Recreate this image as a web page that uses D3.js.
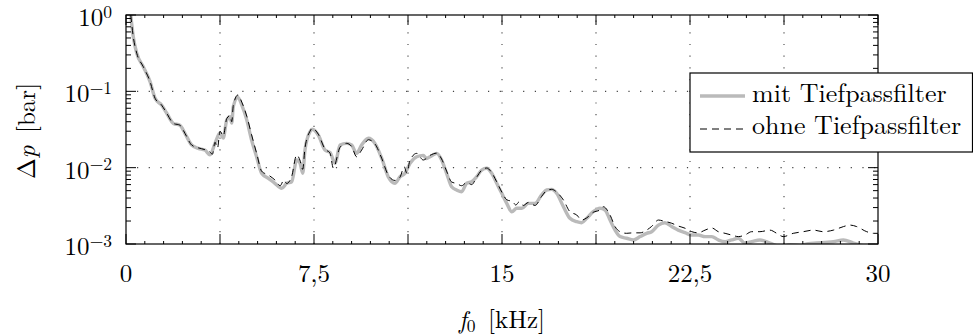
<!DOCTYPE html>
<html>
<head>
<meta charset="utf-8">
<script src="https://cdn.jsdelivr.net/npm/d3@7/dist/d3.min.js"></script>
<style>
  html, body { margin: 0; padding: 0; background: #fff; }
</style>
</head>
<body>
<svg id="chart" width="973" height="336"></svg>
<script>
// Pressure amplitude spectrum, with and without low-pass filter
const fMit = [0.19,0.29,0.43,0.69,0.96,1.16,1.42,1.62,1.89,2.15,2.35,2.62,2.88,3.15,3.35,3.55,3.75,3.88,4.02,4.15,4.22,4.28,4.46,4.62,4.82,5.01,5.21,5.41,5.68,5.94,6.21,6.41,6.61,6.81,6.94,7.05,7.14,7.34,7.43,7.67,7.94,8.14,8.34,8.54,8.80,9.00,9.20,9.40,9.67,9.93,10.20,10.46,10.73,10.93,11.13,11.33,11.60,11.86,11.99,12.13,12.40,12.59,12.79,12.99,13.19,13.39,13.59,13.79,13.99,14.19,14.39,14.59,14.79,14.99,15.19,15.39,15.59,15.79,16.05,16.32,16.58,16.78,16.98,17.18,17.45,17.71,17.98,18.18,18.38,18.64,18.91,19.11,19.31,19.51,19.71,19.97,20.24,20.51,20.77,20.97,21.24,21.50,21.77,22.03,22.30,22.57,22.83,23.10,23.37,23.63,23.90,24.16,24.43,24.69,24.96,25.29,25.69,26.09,26.49,26.89,27.22,27.55,27.89,28.22,28.62,29.02,29.41,29.88];
const pMit = [1.0,0.52,0.315,0.21,0.134,0.081,0.066,0.052,0.038,0.036,0.0282,0.0198,0.0179,0.0170,0.0147,0.0208,0.0285,0.0245,0.042,0.0465,0.0385,0.063,0.0835,0.066,0.042,0.0230,0.0139,0.00844,0.00726,0.00624,0.00537,0.00624,0.00655,0.0126,0.0115,0.00844,0.0170,0.0296,0.0318,0.0268,0.0170,0.0158,0.0114,0.0198,0.0208,0.0198,0.0154,0.0198,0.0243,0.0208,0.0133,0.00762,0.00624,0.00762,0.00844,0.0114,0.0139,0.0145,0.0132,0.0139,0.0154,0.0126,0.00844,0.00563,0.00510,0.00484,0.00624,0.00655,0.00762,0.00931,0.00982,0.00844,0.00624,0.00461,0.00341,0.00265,0.00294,0.00294,0.00341,0.00341,0.00439,0.00510,0.00520,0.00461,0.00308,0.00217,0.00196,0.00190,0.00217,0.00265,0.00294,0.00279,0.00206,0.00152,0.00125,0.00119,0.00113,0.00125,0.00138,0.00145,0.00177,0.00190,0.00169,0.00152,0.00141,0.00131,0.00131,0.00125,0.00125,0.00113,0.00107,0.00113,0.00119,0.00103,0.00107,0.00113,0.00103,0.00093,0.00098,0.00096,0.00101,0.00103,0.00105,0.00107,0.00113,0.00103,0.00096,0.00096];

const fOhne = [0.19,0.29,0.43,0.69,0.96,1.16,1.42,1.62,1.89,2.15,2.35,2.62,2.88,3.15,3.35,3.45,3.55,3.65,3.75,3.88,4.02,4.15,4.22,4.28,4.46,4.62,4.82,5.01,5.21,5.41,5.68,5.94,6.15,6.30,6.41,6.61,6.81,6.94,7.05,7.14,7.34,7.43,7.67,7.94,8.14,8.27,8.54,8.80,9.00,9.20,9.40,9.67,9.93,10.20,10.46,10.73,10.93,11.10,11.20,11.33,11.60,11.86,12.13,12.40,12.59,12.79,12.99,13.19,13.39,13.59,13.79,13.99,14.19,14.39,14.59,14.79,14.99,15.19,15.43,15.55,15.69,15.85,16.05,16.32,16.58,16.78,16.98,17.18,17.45,17.71,17.98,18.18,18.38,18.64,18.91,19.04,19.31,19.51,19.71,19.97,20.24,20.51,20.77,20.97,21.24,21.44,21.77,22.03,22.30,22.57,22.83,23.10,23.37,23.63,23.90,24.16,24.43,24.69,24.96,25.29,25.69,25.96,26.22,26.62,27.02,27.42,27.82,28.22,28.62,28.88,29.15,29.55,29.82,30.0];
const pOhne = [1.0,0.52,0.315,0.21,0.134,0.081,0.066,0.052,0.038,0.036,0.0282,0.0198,0.0182,0.0172,0.0160,0.0150,0.0215,0.0180,0.030,0.026,0.044,0.048,0.040,0.065,0.0895,0.072,0.047,0.027,0.0155,0.0090,0.0080,0.0069,0.0058,0.0069,0.0062,0.0077,0.0147,0.0125,0.0095,0.018,0.030,0.0328,0.0275,0.0175,0.0155,0.0099,0.0185,0.0208,0.0190,0.0139,0.0170,0.0232,0.0205,0.0133,0.0080,0.0068,0.0075,0.0103,0.0085,0.0125,0.0154,0.0126,0.0145,0.0155,0.0130,0.0090,0.0065,0.0062,0.0058,0.0064,0.0060,0.0075,0.0093,0.0099,0.0086,0.0065,0.0048,0.0038,0.00358,0.00324,0.00358,0.0032,0.0035,0.0032,0.0042,0.0050,0.0052,0.0048,0.00377,0.00265,0.0024,0.00206,0.0022,0.0026,0.0028,0.00308,0.0024,0.00169,0.00145,0.00138,0.0014,0.0014,0.00152,0.0017,0.00206,0.0020,0.00187,0.00172,0.00161,0.00145,0.0014,0.00152,0.00162,0.00145,0.00138,0.00131,0.00125,0.00131,0.00145,0.00145,0.00152,0.00138,0.00125,0.00138,0.00145,0.00152,0.00145,0.00152,0.00169,0.00177,0.00169,0.00145,0.00138,0.00138];

const xTickValues = [0, 7.5, 15, 22.5, 30];
const xTickLabels = ["0", "7,5", "15", "22,5", "30"];
const yTickExponents = [0, -1, -2, -3];
const seriesNames = ["mit Tiefpassfilter", "ohne Tiefpassfilter"];

const FONT = "'Latin Modern Roman', 'Liberation Serif', serif";

const svg = d3.select("#chart");
const plotLeft = 126, plotRight = 878, plotTop = 15, plotBottom = 244;

const x = d3.scaleLinear().domain([0, 30]).range([plotLeft, plotRight]);
const y = d3.scaleLog().domain([1e-3, 1]).range([plotBottom, plotTop]);

// dotted grid
const gridX = d3.range(0, 30.01, 3.75).filter(v => v > 0 && v < 30);
svg.append("g").selectAll("line").data(gridX).join("line")
  .attr("x1", d => x(d)).attr("x2", d => x(d))
  .attr("y1", plotBottom).attr("y2", plotTop)
  .attr("stroke", "#444").attr("stroke-width", 1.1)
  .attr("stroke-dasharray", "1.2,10.5");
svg.append("g").selectAll("line").data([1e-1, 1e-2]).join("line")
  .attr("x1", plotLeft).attr("x2", plotRight)
  .attr("y1", d => y(d)).attr("y2", d => y(d))
  .attr("stroke", "#444").attr("stroke-width", 1.1)
  .attr("stroke-dasharray", "1.2,10.5")
  .attr("stroke-dashoffset", -11);

// clip curves to the plot area
svg.append("clipPath").attr("id", "plotClip")
  .append("rect").attr("x", plotLeft).attr("y", plotTop)
  .attr("width", plotRight - plotLeft).attr("height", plotBottom - plotTop);

const line = d3.line()
  .x(d => x(d[0])).y(d => y(d[1]))
  .curve(d3.curveMonotoneX);

const plot = svg.append("g").attr("clip-path", "url(#plotClip)");
plot.append("path")
  .attr("d", line(d3.zip(fMit, pMit)))
  .attr("fill", "none").attr("stroke", "#bababa")
  .attr("stroke-width", 3.4).attr("stroke-linejoin", "round");
plot.append("path")
  .attr("d", line(d3.zip(fOhne, pOhne)))
  .attr("fill", "none").attr("stroke", "#000")
  .attr("stroke-width", 1).attr("stroke-dasharray", "7,5");

// ticks (inward, on all four sides)
const ticks = svg.append("g").attr("stroke", "#000").attr("stroke-width", 1);
const xMajor = d3.range(0, 30.01, 3.75);
const xMinor = d3.range(0, 30.01, 0.75).filter(v => Math.abs(v / 3.75 - Math.round(v / 3.75)) > 1e-6);
xMajor.forEach(v => {
  ticks.append("line").attr("x1", x(v)).attr("x2", x(v)).attr("y1", plotBottom).attr("y2", plotBottom - 10);
  ticks.append("line").attr("x1", x(v)).attr("x2", x(v)).attr("y1", plotTop).attr("y2", plotTop + 10);
});
xMinor.forEach(v => {
  ticks.append("line").attr("x1", x(v)).attr("x2", x(v)).attr("y1", plotBottom).attr("y2", plotBottom - 3);
  ticks.append("line").attr("x1", x(v)).attr("x2", x(v)).attr("y1", plotTop).attr("y2", plotTop + 3);
});
const yMinor = [];
[-3, -2, -1].forEach(e => { for (let m = 2; m <= 9; m++) yMinor.push(m * Math.pow(10, e)); });
yTickExponents.forEach(e => {
  const yy = y(Math.pow(10, e));
  ticks.append("line").attr("x1", plotLeft).attr("x2", plotLeft + 10).attr("y1", yy).attr("y2", yy);
  ticks.append("line").attr("x1", plotRight).attr("x2", plotRight - 10).attr("y1", yy).attr("y2", yy);
});
yMinor.forEach(v => {
  const yy = y(v);
  ticks.append("line").attr("x1", plotLeft).attr("x2", plotLeft + 5).attr("y1", yy).attr("y2", yy);
  ticks.append("line").attr("x1", plotRight).attr("x2", plotRight - 5).attr("y1", yy).attr("y2", yy);
});

// frame
svg.append("rect").attr("x", plotLeft).attr("y", plotTop)
  .attr("width", plotRight - plotLeft).attr("height", plotBottom - plotTop)
  .attr("fill", "none").attr("stroke", "#000").attr("stroke-width", 1.2);

// x tick labels
svg.append("g").selectAll("text").data(xTickValues).join("text")
  .attr("font-family", FONT)
  .attr("x", d => x(d)).attr("y", 282)
  .attr("text-anchor", "middle").attr("font-size", 25)
  .text((d, i) => xTickLabels[i]);

// y tick labels 10^e
yTickExponents.forEach(e => {
  const t = svg.append("text").attr("font-family", FONT)
    .attr("x", 112).attr("y", y(Math.pow(10, e)) + 11)
    .attr("text-anchor", "end").attr("font-size", 25);
  t.append("tspan").text("10");
  t.append("tspan").attr("font-size", 17.5).attr("dy", -8.5)
    .text(e === 0 ? "0" : "\u2212" + Math.abs(e));
});

// axis labels
const xl = svg.append("text").attr("font-family", FONT)
  .attr("x", 502).attr("y", 328)
  .attr("text-anchor", "middle").attr("font-size", 25);
xl.append("tspan").attr("font-style", "italic").text("f");
xl.append("tspan").attr("font-size", 17.5).attr("dy", 4).text("0");
xl.append("tspan").attr("dy", -4).text("\u2002[kHz]");

const yl = svg.append("text").attr("font-family", FONT)
  .attr("transform", "translate(35,131) rotate(-90)")
  .attr("text-anchor", "middle").attr("font-size", 25);
yl.append("tspan").text("\u0394");
yl.append("tspan").attr("font-style", "italic").text("p");
yl.append("tspan").text("\u2002[bar]");

// legend
const lg = svg.append("g");
lg.append("rect").attr("x", 690).attr("y", 73)
  .attr("width", 282.5).attr("height", 79)
  .attr("fill", "#fff").attr("stroke", "#000").attr("stroke-width", 1.2);
lg.append("line").attr("x1", 700).attr("x2", 745).attr("y1", 96).attr("y2", 96)
  .attr("stroke", "#bababa").attr("stroke-width", 3.4);
lg.append("line").attr("x1", 700).attr("x2", 745).attr("y1", 129).attr("y2", 129)
  .attr("stroke", "#000").attr("stroke-width", 1).attr("stroke-dasharray", "7,5");
lg.selectAll("text").data(seriesNames).join("text")
  .attr("font-family", FONT)
  .attr("x", 752).attr("y", (d, i) => 102 + i * 32)
  .attr("font-size", 26)
  .text(d => d);
</script>
</body>
</html>
